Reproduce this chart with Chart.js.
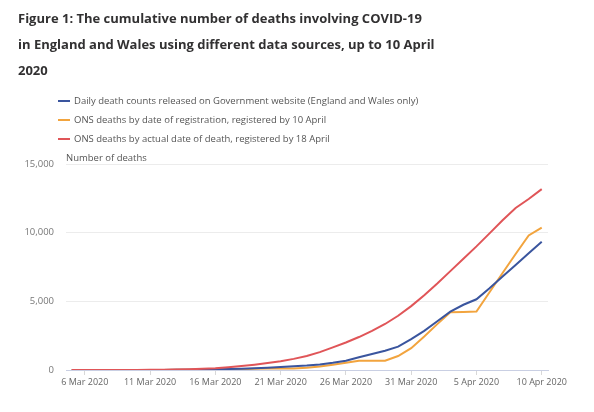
<!DOCTYPE html>
<html>
<head>
<meta charset="utf-8">
<script src="https://cdn.jsdelivr.net/npm/chart.js@4.4.1/dist/chart.umd.min.js"></script>
<style>
  body { margin: 0; background: #fff; font-family: "Open Sans", sans-serif; }
  #wrap { position: relative; width: 594px; height: 412px; overflow: hidden; }
  #title { position: absolute; left: 18px; top: 5px; font-size: 13px; font-weight: 700; color: #323132; line-height: 26px; z-index: 2; }
  #legend { position: absolute; left: 58px; top: 91px; font-size: 9.5px; color: #555; z-index: 2; }
  .item { height: 19px; display: flex; align-items: center; }
  .swatch { width: 12px; height: 2px; margin-right: 4px; }
  #ylabel { position: absolute; left: 66px; top: 151px; font-size: 9.5px; color: #555; z-index: 2; }
  canvas { position: absolute; left: 0; top: 0; }
</style>
</head>
<body>
<div id="wrap">
  <div id="title">Figure 1: The cumulative number of deaths involving COVID-19<br>in England and Wales using different data sources, up to 10 April<br>2020</div>
  <div id="legend"></div>
  <div id="ylabel">Number of deaths</div>
  <canvas id="chart" width="594" height="412"></canvas>
</div>
<script>
// Categories: one per day, 5 Mar to 10 Apr 2020
const dates = [
  '5 Mar 2020', '6 Mar 2020', '7 Mar 2020', '8 Mar 2020', '9 Mar 2020', '10 Mar 2020',
  '11 Mar 2020', '12 Mar 2020', '13 Mar 2020', '14 Mar 2020', '15 Mar 2020', '16 Mar 2020',
  '17 Mar 2020', '18 Mar 2020', '19 Mar 2020', '20 Mar 2020', '21 Mar 2020', '22 Mar 2020',
  '23 Mar 2020', '24 Mar 2020', '25 Mar 2020', '26 Mar 2020', '27 Mar 2020', '28 Mar 2020',
  '29 Mar 2020', '30 Mar 2020', '31 Mar 2020', '1 Apr 2020', '2 Apr 2020', '3 Apr 2020',
  '4 Apr 2020', '5 Apr 2020', '6 Apr 2020', '7 Apr 2020', '8 Apr 2020', '9 Apr 2020',
  '10 Apr 2020'
];

// Tick labels shown on the axes
const xTickLabels = ['6 Mar 2020', '11 Mar 2020', '16 Mar 2020', '21 Mar 2020',
  '26 Mar 2020', '31 Mar 2020', '5 Apr 2020', '10 Apr 2020'];
const yTicks = [0, 5000, 10000, 15000];

// Series (cumulative deaths)
const govDaily = [1, 2, 2, 3, 4, 6, 8, 8, 10, 21, 35, 55, 70, 100, 135, 170, 220, 270,
  320, 400, 520, 680, 930, 1160, 1400, 1700, 2250, 2850, 3550, 4250, 4750, 5150,
  5950, 6800, 7650, 8500, 9344];
const onsRegistration = [0, 1, 1, 1, 2, 4, 6, 9, 14, 14, 14, 25, 40, 60, 85, 110, 110, 110,
  170, 260, 380, 520, 680, 680, 680, 1020, 1590, 2440, 3340, 4200, 4230, 4260,
  5660, 7060, 8450, 9800, 10368];
const onsOccurrence = [0, 1, 1, 2, 4, 7, 12, 20, 35, 55, 85, 130, 200, 290, 390, 510, 640, 810,
  1020, 1300, 1650, 2000, 2400, 2850, 3350, 3950, 4650, 5450, 6300, 7200, 8100, 9000,
  9950, 10900, 11800, 12450, 13170];

const seriesLabels = [
  'Daily death counts released on Government website (England and Wales only)',
  'ONS deaths by date of registration, registered by 10 April',
  'ONS deaths by actual date of death, registered by 18 April'
];
const seriesColors = ['#3a559e', '#f2a43e', '#e05558'];
const seriesValues = [govDaily, onsRegistration, onsOccurrence];
const seriesOrder = [1, 2, 0];

// Legend
document.getElementById('legend').innerHTML = seriesLabels.map((l, i) => `
  <div class="item"><span class="swatch" style="background:${seriesColors[i]}"></span>${l}</div>
`).join('');

const tickIdx = xTickLabels.map(t => dates.indexOf(t));

new Chart(document.getElementById('chart'), {
  type: 'line',
  data: {
    datasets: seriesValues.map((vals, i) => ({
      label: seriesLabels[i],
      data: vals.map((v, j) => ({ x: j, y: v })),
      borderColor: seriesColors[i],
      borderWidth: 2,
      pointRadius: 0,
      tension: 0,
      fill: false,
      order: seriesOrder[i]
    }))
  },
  options: {
    responsive: false,
    animation: false,
    layout: { padding: { top: 164, right: 46, left: 0, bottom: 0 } },
    plugins: { legend: { display: false }, tooltip: { enabled: false } },
    scales: {
      x: {
        type: 'linear',
        min: -0.44,
        max: 36.48,
        afterFit: s => { s.height = 42; },
        afterBuildTicks: s => { s.ticks = tickIdx.map(v => ({ value: v })); },
        ticks: {
          callback: v => dates[v],
          color: '#666',
          font: { size: 9, family: 'Open Sans' },
          maxRotation: 0,
          autoSkip: false,
          padding: 2
        },
        grid: { drawOnChartArea: false, drawTicks: true, tickLength: 5, color: '#d8d8d8' },
        border: { color: '#c9cfe3' }
      },
      y: {
        min: 0,
        max: 15000,
        afterFit: s => { s.width = 66; },
        afterBuildTicks: s => { s.ticks = yTicks.map(v => ({ value: v })); },
        ticks: {
          callback: v => v.toLocaleString('en-GB'),
          color: '#777',
          font: { size: 9.5, family: 'Open Sans' },
          padding: 12
        },
        grid: { color: '#ececec', drawTicks: false },
        border: { display: false }
      }
    }
  }
});
</script>
</body>
</html>
